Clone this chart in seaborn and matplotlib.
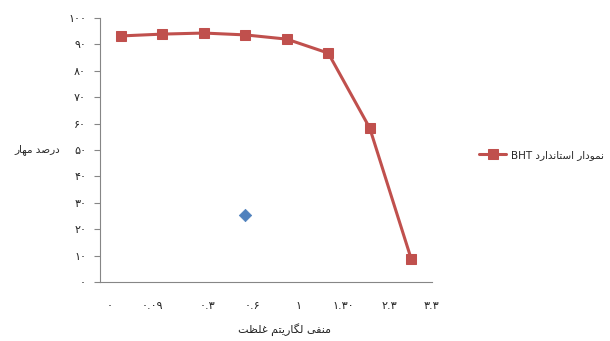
import numpy as np
import pandas as pd
import seaborn as sns
import matplotlib.pyplot as plt

# values
x_labels = ['۰', '۰.۰۹', '۰.۳', '۰.۶', '۱', '۱.۳۰', '۲.۳', '۳.۳']
bht_inhibition = [93.2, 93.9, 94.3, 93.6, 92.0, 86.7, 58.3, 8.7]
sample_x = [3]
sample_inhibition = [25.4]
y_ticks = [0, 10, 20, 30, 40, 50, 60, 70, 80, 90, 100]
y_tick_labels = ['۰', '۱۰', '۲۰', '۳۰', '۴۰', '۵۰', '۶۰', '۷۰', '۸۰', '۹۰', '۱۰۰']

# minimal persian shaping (matplotlib has no complex text layout)
FORMS = {
    'ا': '\uFE8D\uFE8E', 'د': '\uFEA9\uFEAA', 'ر': '\uFEAD\uFEAE', 'و': '\uFEED\uFEEE',
    'ت': '\uFE95\uFE96\uFE97\uFE98', 'س': '\uFEB1\uFEB2\uFEB3\uFEB4',
    'ص': '\uFEB9\uFEBA\uFEBB\uFEBC', 'ظ': '\uFEC5\uFEC6\uFEC7\uFEC8',
    'غ': '\uFECD\uFECE\uFECF\uFED0', 'ف': '\uFED1\uFED2\uFED3\uFED4',
    'ل': '\uFEDD\uFEDE\uFEDF\uFEE0', 'م': '\uFEE1\uFEE2\uFEE3\uFEE4',
    'ن': '\uFEE5\uFEE6\uFEE7\uFEE8', 'ه': '\uFEE9\uFEEA\uFEEB\uFEEC',
    'ی': '\uFBFC\uFBFD\uFBFE\uFBFF', 'گ': '\uFB92\uFB93\uFB94\uFB95',
}


def fa(text):
    out = []
    for i, ch in enumerate(text):
        f = FORMS.get(ch)
        if f is None:
            out.append(ch)
            continue
        prev = text[i - 1] if i > 0 else ''
        nxt = text[i + 1] if i + 1 < len(text) else ''
        jp = prev in FORMS and len(FORMS[prev]) == 4
        jn = len(f) == 4 and nxt in FORMS
        if jp and jn:
            out.append(f[3])
        elif jp:
            out.append(f[1])
        elif jn:
            out.append(f[2])
        else:
            out.append(f[0])
    return ''.join(reversed(out))


sns.set_style('white')
plt.rcParams['font.family'] = ['DejaVu Sans']

df = pd.DataFrame({'x': np.arange(len(bht_inhibition)), 'y': bht_inhibition})
df_sample = pd.DataFrame({'x': sample_x, 'y': sample_inhibition})

fig = plt.figure(figsize=(6.1, 3.41), dpi=100)
ax = fig.add_axes([100 / 610, 59 / 341, 332 / 610, 264 / 341])

sns.lineplot(data=df, x='x', y='y', ax=ax, color='#C0504D', linewidth=2.2,
             marker='s', markersize=6.5, markeredgecolor='#C0504D',
             label='BHT ' + fa('نمودار استاندارد'))
sns.scatterplot(data=df_sample, x='x', y='y', ax=ax, color='#4F81BD',
                marker='D', s=40, edgecolor='#4F81BD', legend=False)

ax.set_xlim(-0.5, 7.5)
ax.set_ylim(0, 100)
ax.set_yticks(y_ticks)
ax.set_yticklabels(y_tick_labels, fontsize=8)
ax.set_xticks([-0.26, 0.76, 2.09, 3.18, 4.27, 5.36, 6.47, 7.49])
ax.set_xticklabels(x_labels, fontsize=8)
ax.tick_params(axis='x', length=0, pad=14)
ax.tick_params(axis='y', length=4, color='#868686', pad=6, direction='out', left=True)
for side in ['top', 'right']:
    ax.spines[side].set_visible(False)
for side in ['left', 'bottom']:
    ax.spines[side].set_color('#868686')
    ax.spines[side].set_linewidth(0.8)
ax.set_xlabel('')
ax.set_ylabel('')

fig.text(37 / 610, 1 - 150 / 341, fa('درصد مهار'), ha='center', va='center', fontsize=7.5)
fig.text(285 / 610, 1 - 330 / 341, fa('منفی لگاریتم غلظت'), ha='center', va='center', fontsize=8)

ax.legend(loc='center left', bbox_to_anchor=(470 / 610, 1 - 155 / 341),
          bbox_transform=fig.transFigure, frameon=False, fontsize=7.5,
          handlelength=2.6, handletextpad=0.4)

fig.savefig('out.png', dpi=100)
